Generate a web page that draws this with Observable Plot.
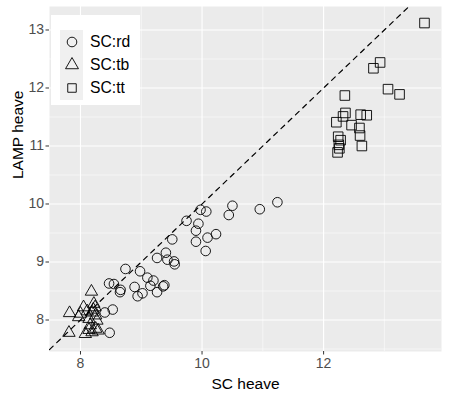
<!DOCTYPE html>
<html><head><meta charset="utf-8">
<script src="https://cdn.jsdelivr.net/npm/d3@7"></script>
<script src="https://cdn.jsdelivr.net/npm/@observablehq/plot@0.6"></script>
<style>
body{margin:0;background:#fff;font-family:"Liberation Sans",Arial,sans-serif;}
#wrap{position:relative;width:449px;height:399px;}
#legend{position:absolute;left:51px;top:15px;width:89px;height:90px;background:#fff;box-sizing:border-box;padding:15px 0 0 9px;}
#legend > div.keybg{position:absolute;left:9px;top:15px;width:23px;height:70px;background:#f0f0f0;}
#legend > div.legbox{position:relative;columns:auto!important;margin:0!important;background:transparent!important;}
svg.plot-main g[aria-label="x-axis tick label"] text, svg.plot-main g[aria-label="y-axis tick label"] text{font-size:14px;}
</style></head><body><div id="wrap"></div>
<script>
const groups = ["SC:rd", "SC:tb", "SC:tt"];
const shapes = ["circle", "triangle", "square"];

const rdX = [11.24,10.95,10.50,10.44,9.975,10.07,9.745,9.94,9.90,10.23,10.09,9.90,9.51,10.06,9.405,9.26,9.43,9.54,9.55,8.74,8.98,9.10,9.20,9.15,9.36,9.38,8.47,8.55,8.66,8.65,8.89,8.94,9.02,9.26,8.53,8.40,8.48];
const rdY = [10.03,9.91,9.97,9.81,9.90,9.87,9.71,9.66,9.54,9.48,9.42,9.35,9.39,9.19,9.16,9.07,9.04,9.01,8.96,8.88,8.84,8.73,8.68,8.59,8.58,8.60,8.63,8.62,8.52,8.48,8.57,8.41,8.46,8.48,8.18,8.13,7.78];

const tbX = [8.18,7.82,7.81,8.00,8.11,8.22,8.24,8.19,8.25,8.14,8.27,8.16,8.08,8.19,8.25,8.14,8.29,7.97,8.05,8.21];
const tbY = [8.49,8.12,7.78,8.11,8.15,8.28,8.22,8.13,8.08,8.02,7.99,7.91,7.76,7.79,7.85,7.83,7.82,8.05,8.22,8.18];

const ttX = [13.66,12.93,12.82,13.06,13.25,12.35,12.36,12.32,12.61,12.71,12.21,12.46,12.59,12.24,12.28,12.60,12.25,12.63,12.23,12.26];
const ttY = [13.12,12.44,12.34,11.98,11.89,11.87,11.57,11.51,11.54,11.53,11.41,11.36,11.31,11.16,11.10,11.18,11.02,11.00,10.89,10.96];

const xTicks = [8, 10, 12];
const yTicks = [8, 9, 10, 11, 12, 13];
const xMinor = [9, 11, 13];
const yMinor = [7.5, 8.5, 9.5, 10.5, 11.5, 12.5];
const xDomain = [7.49, 13.94];
const yDomain = [7.457, 13.405];
const xTitle = "SC heave";
const yTitle = "LAMP heave";

const data = [
  ...rdX.map((x, i) => ({x, y: rdY[i], g: groups[0]})),
  ...tbX.map((x, i) => ({x, y: tbY[i], g: groups[1]})),
  ...ttX.map((x, i) => ({x, y: ttY[i], g: groups[2]}))
];
const lo = Math.max(xDomain[0], yDomain[0]), hi = Math.min(xDomain[1], yDomain[1]);
const diag = [{v: lo}, {v: hi}];

const font = '"Liberation Sans", Arial, sans-serif';
const symbolScale = {domain: groups, range: shapes};

const plot = Plot.plot({
  className: "plot-main",
  width: 449, height: 399,
  marginLeft: 49, marginRight: 8, marginTop: 6, marginBottom: 48,
  style: {fontFamily: font, background: "#fff", overflow: "visible"},
  x: {domain: xDomain},
  y: {domain: yDomain},
  symbol: symbolScale,
  marks: [
    Plot.frame({fill: "#ebebeb", stroke: "none"}),
    Plot.gridX(xMinor, {stroke: "#fff", strokeOpacity: 1, strokeWidth: 0.55}),
    Plot.gridY(yMinor, {stroke: "#fff", strokeOpacity: 1, strokeWidth: 0.55}),
    Plot.gridX(xTicks, {stroke: "#fff", strokeOpacity: 1, strokeWidth: 1.1}),
    Plot.gridY(yTicks, {stroke: "#fff", strokeOpacity: 1, strokeWidth: 1.1}),
    Plot.axisX({ticks: xTicks, tickFormat: d => String(d), tickSize: 3.5, tickPadding: 3, stroke: "#333", fontSize: 14, color: "#4d4d4d", label: null}),
    Plot.axisY({ticks: yTicks, tickFormat: d => String(d), tickSize: 3.5, tickPadding: 2, stroke: "#333", fontSize: 14, color: "#4d4d4d", label: null}),
    Plot.text([xTitle], {frameAnchor: "bottom", text: d => d, dy: 26, fontSize: 15.5, fill: "#000", lineAnchor: "top"}),
    Plot.text([yTitle], {frameAnchor: "left", text: d => d, dx: -31, rotate: -90, fontSize: 15.5, fill: "#000", lineAnchor: "middle"}),
    Plot.line(diag, {x: "v", y: "v", stroke: "#000", strokeWidth: 1.2, strokeDasharray: "5,5", clip: true}),
    Plot.dot(data.filter(d => d.g === groups[0]), {x: "x", y: "y", symbol: "g", r: 4.8, stroke: "#000", strokeWidth: 0.9, fill: "none"}),
    Plot.dot(data.filter(d => d.g === groups[1]), {x: "x", y: "y", symbol: "g", r: 4.6, stroke: "#000", strokeWidth: 0.9, fill: "none"}),
    Plot.dot(data.filter(d => d.g === groups[2]), {x: "x", y: "y", symbol: "g", r: 5.4, stroke: "#000", strokeWidth: 0.9, fill: "none"})
  ]
});

const wrap = document.getElementById("wrap");
wrap.appendChild(plot);
const lg = document.createElement("div");
lg.id = "legend";
const bg = document.createElement("div");
bg.className = "keybg";
lg.appendChild(bg);
const leg = Plot.legend({symbol: symbolScale, columns: 1, r: 4.8, stroke: "#000", strokeWidth: 0.9, fill: "none", swatchWidth: 16, swatchHeight: 16, style: {fontFamily: font, fontSize: "15.7px", background: "transparent"}});
leg.classList.add("legbox");
lg.appendChild(leg);
wrap.appendChild(lg);
leg.querySelectorAll("svg").forEach(s => {
  s.style.marginRight = "10.5px";
  s.style.marginLeft = "3.5px";
  s.style.background = "transparent";
  const item = s.parentNode;
  item.style.display = "flex";
  item.style.alignItems = "center";
  item.style.padding = "0";
  item.style.margin = "0";
  item.style.height = "23.3px";
  item.style.font = '15.7px "Liberation Sans", Arial, sans-serif';
  item.style.color = "#000";
});
</script></body></html>
